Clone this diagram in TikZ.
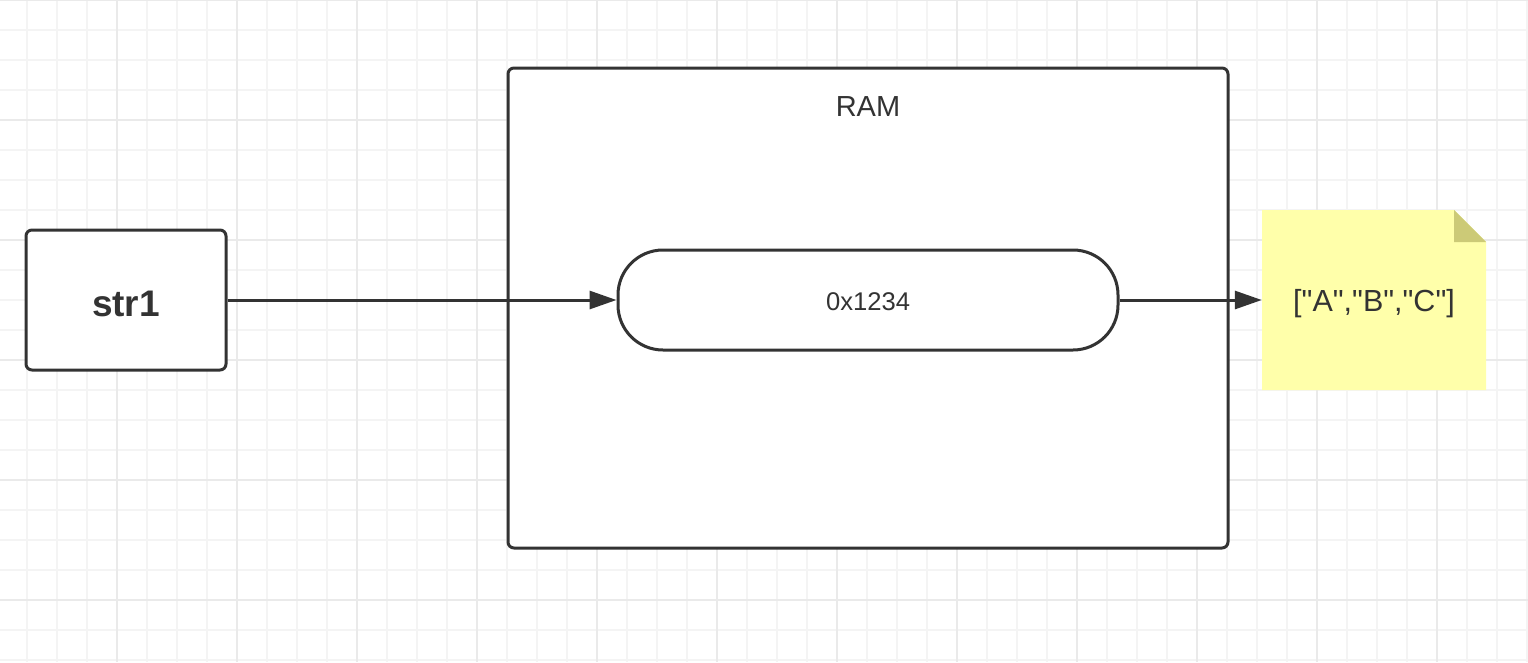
\documentclass[tikz,border=0pt]{standalone}
\usepackage{fontspec}
\setmainfont{Liberation Sans}[Ligatures=TeXOff]
\usetikzlibrary{arrows.meta}
\definecolor{ink}{HTML}{333333}
\definecolor{gridminor}{HTML}{F4F4F4}
\definecolor{gridmajor}{HTML}{EAEAEA}
\definecolor{notefill}{HTML}{FFFFAA}
\definecolor{notefold}{HTML}{CCCA77}
\begin{document}
\begin{tikzpicture}[x=1pt,y=-1pt,
  box/.style={draw=ink, line width=3pt, fill=white, inner sep=0pt, text=ink},
  link/.style={draw=ink, line width=3pt, -{Triangle[length=27pt,width=18pt]}},
  gridline/.style={gridminor, line width=2pt},
  gridbold/.style={gridmajor, line width=2pt},
  note/.style={inner sep=0pt, text=ink, minimum width=224pt, minimum height=180pt,
    path picture={
      \fill[notefill] (path picture bounding box.north west)
        -- ([xshift=-32pt]path picture bounding box.north east)
        -- ([yshift=-32pt]path picture bounding box.north east)
        -- (path picture bounding box.south east)
        -- (path picture bounding box.south west) -- cycle;
      \fill[notefold] ([xshift=-32pt]path picture bounding box.north east)
        -- ([xshift=-32pt,yshift=-32pt]path picture bounding box.north east)
        -- ([yshift=-32pt]path picture bounding box.north east) -- cycle;
    }}
]
\useasboundingbox (0,0) rectangle (1528,662);
\fill[white] (0,0) rectangle (1528,662);
% grid
\foreach \i in {0,...,50} \draw[gridline] ({26.67+30*\i},0) -- ({26.67+30*\i},662);
\foreach \j in {0,...,22} \draw[gridline] (0,{30*\j}) -- (1528,{30*\j});
\foreach \i in {0,...,11} \draw[gridbold] ({116.67+120*\i},0) -- ({116.67+120*\i},662);
\foreach \j in {0,...,5} \draw[gridbold] (0,{120*\j}) -- (1528,{120*\j});
% shapes
\node[box, rounded corners=6pt, minimum width=720pt, minimum height=480pt] (ram) at (868,308) {};
\node[text=ink, anchor=base, font=\fontsize{29}{34}\selectfont] (ramlabel) at (868,116) {RAM};
\node[box, rounded corners=45pt, minimum width=500pt, minimum height=100pt,
      font=\fontsize{25.6}{30}\selectfont, text height=21.4pt, text depth=0pt] (pill) at (868,300) {0x1234};
\node[box, rounded corners=6pt, minimum width=200pt, minimum height=140pt,
      font=\bfseries\fontsize{37}{44}\selectfont, text height=33.4pt, text depth=0pt] (str1) at (126,300) {str1};
\node[note, font=\fontsize{30.5}{36}\selectfont, text height=22pt, text depth=0pt] (arr) at (1374,300) {["A","B","C"]};
% connectors
\draw[link] (str1.east) -- (pill.west);
\draw[link] (pill.east) -- (arr.west);
\end{tikzpicture}
\end{document}
